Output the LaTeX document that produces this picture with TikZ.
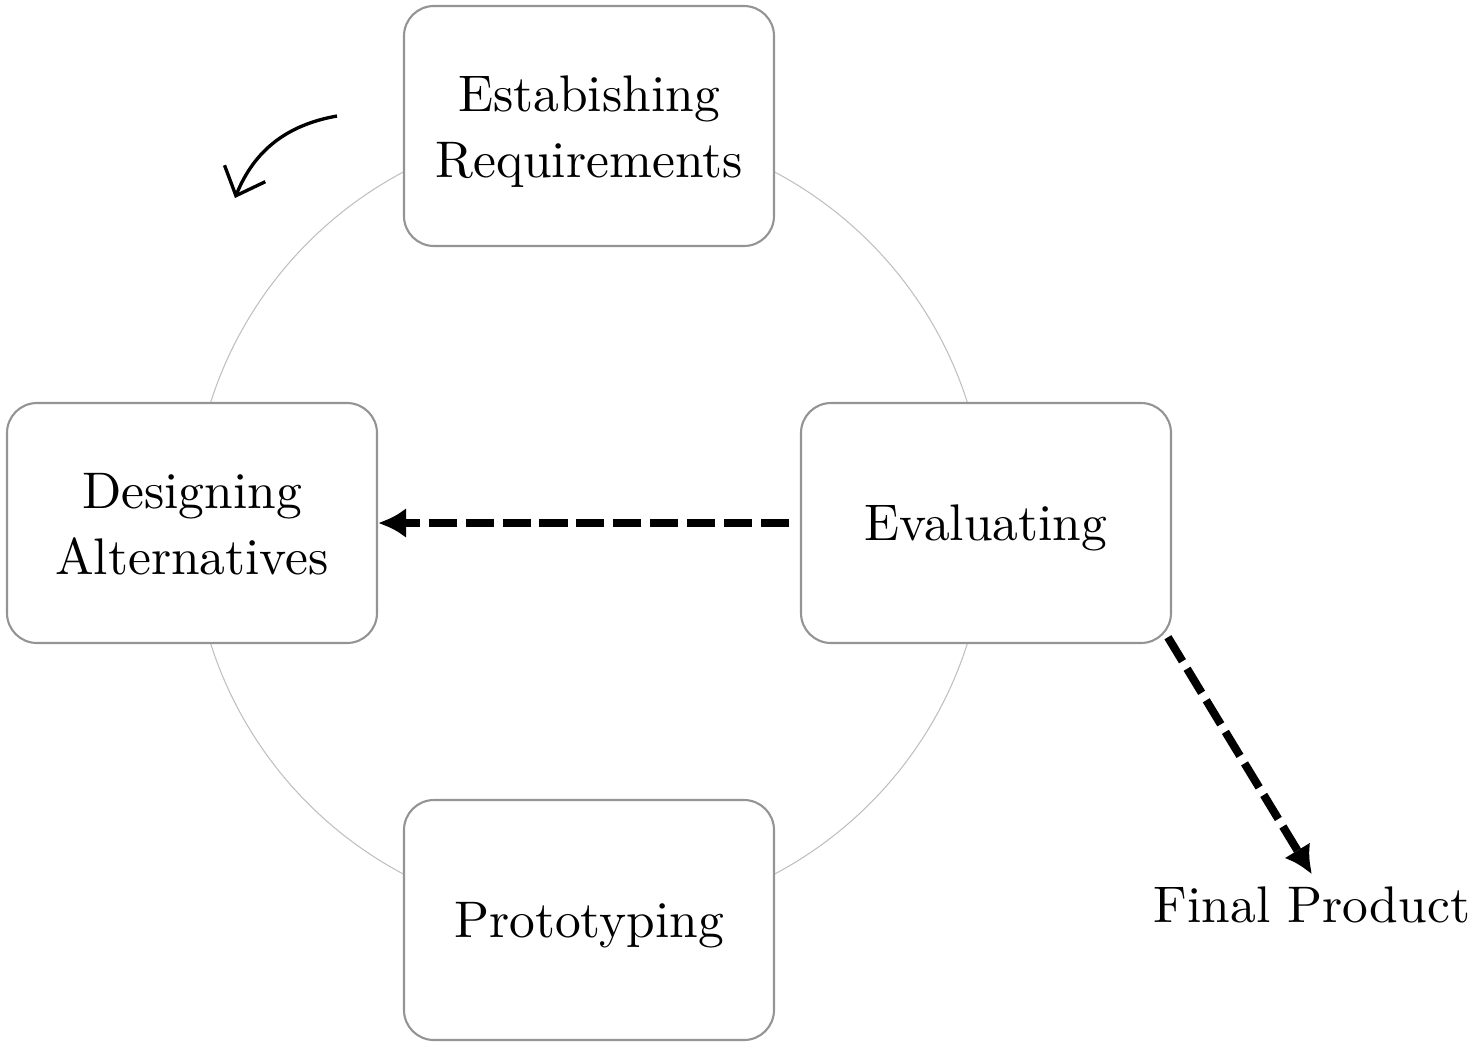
\documentclass[tikz,border=0pt]{standalone}
\usetikzlibrary{arrows.meta}
\font\stagefont="[lmroman10-regular.otf]" at 14.65pt
\newcommand{\stagetext}{\stagefont\baselineskip=19pt\relax}
\begin{document}
\begin{tikzpicture}[
    stage/.style={draw=black!42, line width=0.6pt, fill=white, rounded corners=0.3cm,
        minimum width=3.7cm, minimum height=2.4cm, align=center, font=\stagetext,
        execute at begin node={\vrule width 0pt height 13.5pt\relax},
        execute at end node={\vrule width 0pt depth 3.5pt\relax}},
    twoline/.style={execute at begin node={\vrule width 0pt height 33pt\relax}},
    flow/.style={line width=2.3pt, dash pattern=on 8pt off 2.5pt, -{Latex[length=2.8mm,width=3mm]}}
    ]

    % 固定画布大小
    \useasboundingbox (-5.89,-5.21) rectangle (8.86,5.23);

    % 绘制底圆
    \draw[lightgray, line width=0.3pt] (0,0) circle (3.97);

    % 四个阶段
    \node[stage, twoline] (req) at (0,3.97) {Estabishing\\Requirements}; % 上
    \node[stage, twoline] (design) at (-3.97,0) {Designing\\Alternatives}; % 左
    \node[stage] (eval) at (3.97,0) {Evaluating}; % 右
    \node[stage] (proto) at (0,-3.97) {Prototyping}; % 下

    % 最终产品
    \node[font=\stagetext] (final) at (7.23,-3.82) {Final Product};

    % 旋转方向箭头
    \coordinate (turnA) at (-2.52,4.07);
    \coordinate (turnB) at (-3.54,3.25);
    \draw[line width=0.95pt, -{Straight Barb[length=2.4mm,width=4.4mm]}] (turnA) to[out=190, in=68] (turnB);

    % 虚线箭头
    \draw[flow, shorten <=0.11cm] (eval.west) -- (design.east);
    \draw[flow, shorten <=-0.08cm] (eval.south east) -- (final.north);

\end{tikzpicture}
\end{document}
